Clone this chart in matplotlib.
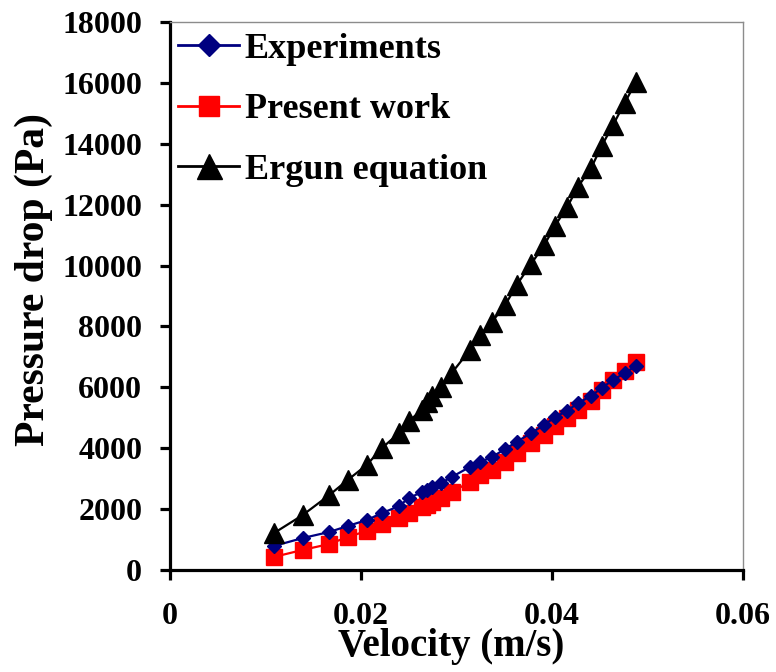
import matplotlib
matplotlib.use('Agg')
import matplotlib.pyplot as plt
from matplotlib.lines import Line2D

plt.rcParams['font.family'] = ['Liberation Serif', 'DejaVu Serif']
plt.rcParams['font.weight'] = 'bold'

velocity = [0.0109, 0.0139, 0.0167, 0.0186, 0.0206, 0.0222, 0.0240, 0.0250,
            0.0264, 0.0269, 0.0274, 0.0284, 0.0295, 0.0314, 0.0325, 0.0337,
            0.0351, 0.0363, 0.0378, 0.0392, 0.0403, 0.0416, 0.0427, 0.0441,
            0.0452, 0.0464, 0.0476, 0.0488]

experiments = [790, 1050, 1250, 1445, 1640, 1870, 2100, 2365,
               2560, 2630, 2730, 2860, 3055, 3385, 3550, 3710,
               3975, 4205, 4500, 4765, 5025, 5225, 5485, 5715,
               5980, 6240, 6470, 6700]

present_work = [430, 660, 855, 1085, 1280, 1510, 1710, 1870,
                2070, 2135, 2235, 2365, 2560, 2890, 3120, 3285,
                3550, 3845, 4170, 4435, 4730, 4995, 5255, 5550,
                5915, 6240, 6535, 6830]

ergun = [1215, 1805, 2465, 2955, 3450, 4010, 4500, 4895,
         5255, 5520, 5715, 6010, 6470, 7225, 7720, 8145,
         8705, 9360, 10050, 10675, 11300, 11925, 12580, 13205,
         13930, 14620, 15340, 16030]

x_ticks = [0, 0.02, 0.04, 0.06]
x_tick_labels = ['0', '0.02', '0.04', '0.06']
y_ticks = list(range(0, 18001, 2000))

fig = plt.figure(figsize=(7.76, 6.72), dpi=100)
ax = fig.add_axes([170/776, 1 - 570/672, 573/776, 548/672])

ax.plot(velocity, experiments, color='#000080', lw=1.6, marker='D', ms=7,
        zorder=3)
ax.plot(velocity, present_work, color='#FF0000', lw=1.6, marker='s', ms=11,
        zorder=2)
ax.plot(velocity, ergun, color='black', lw=1.6, marker='^', ms=15, zorder=4)

ax.set_xlim(0, 0.06)
ax.set_ylim(0, 18000)
ax.set_xticks(x_ticks)
ax.set_xticklabels(x_tick_labels)
ax.set_yticks(y_ticks)

for side in ['left', 'bottom']:
    ax.spines[side].set_linewidth(2.3)
    ax.spines[side].set_color('black')
for side in ['top', 'right']:
    ax.spines[side].set_linewidth(1.0)
    ax.spines[side].set_color('#8c8c8c')

ax.tick_params(axis='both', direction='out', length=7, width=2.3,
               labelsize=23, top=False, right=False)
ax.tick_params(axis='y', pad=13)
ax.tick_params(axis='x', pad=16)

ax.set_xlabel('Velocity (m/s)', fontsize=28, fontweight='bold')
ax.set_ylabel('Pressure drop (Pa)', fontsize=30, fontweight='bold')
ax.xaxis.set_label_coords(0.49, -0.106)
ax.yaxis.set_label_coords(-0.205, 0.53)

handles = [
    Line2D([], [], color='#000080', lw=2, marker='D', ms=11),
    Line2D([], [], color='#FF0000', lw=2, marker='s', ms=15),
    Line2D([], [], color='black', lw=2, marker='^', ms=18),
]
labels = ['Experiments', 'Present work', 'Ergun equation']
ax.legend(handles, labels, loc='upper left', bbox_to_anchor=(-0.005, 1.0),
          frameon=False, fontsize=26, handlelength=1.7, handletextpad=0.15,
          labelspacing=0.75, borderaxespad=0.1, borderpad=0.2)

fig.savefig('out.png', dpi=100)
